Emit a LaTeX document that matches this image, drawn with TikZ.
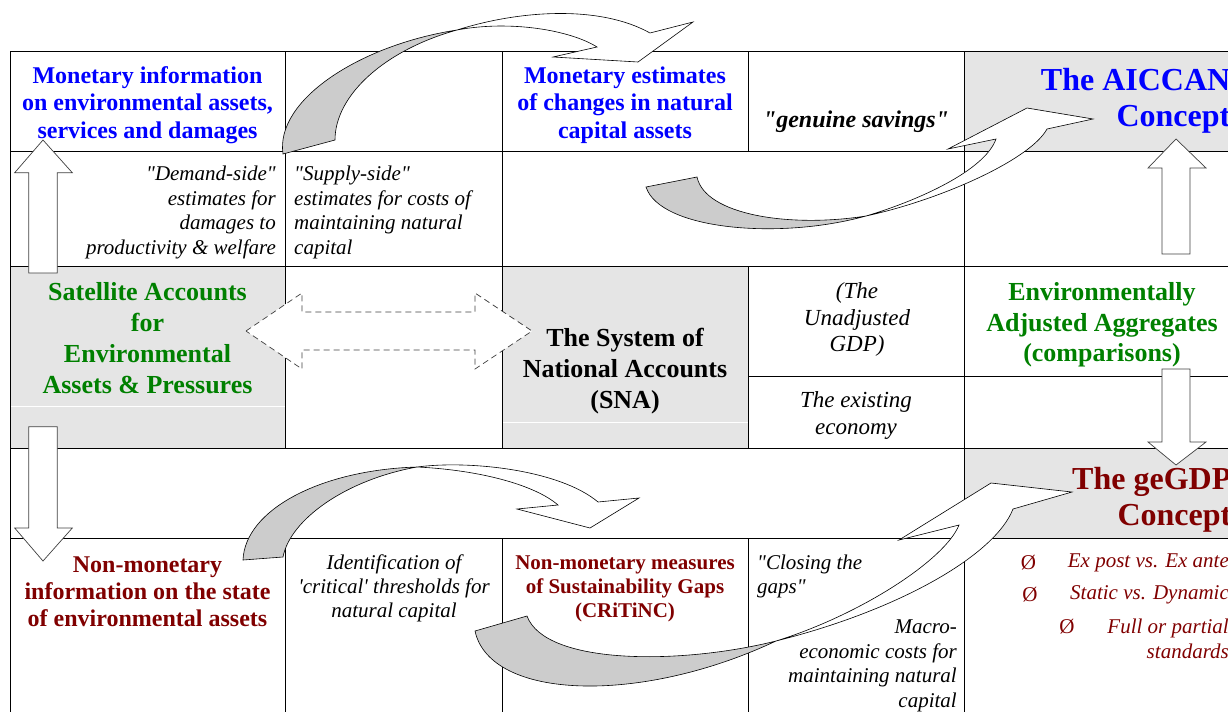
\documentclass[tikz,border=0pt]{standalone}
\usepackage{fontspec}
\setmainfont{Liberation Serif}[Ligatures=TeXOff]
\definecolor{cblue}{RGB}{0,0,255}
\definecolor{cgreen}{RGB}{0,128,0}
\definecolor{cred}{RGB}{128,0,0}
\definecolor{cellgray}{RGB}{229,229,229}
\definecolor{arrgray}{RGB}{204,204,204}
\tikzset{
  tline/.style={line width=1pt, black},
  cellfill/.style={fill=cellgray},
  blockarrow/.style={fill=white, draw=black!75, line width=0.7pt, line join=miter},
  curvgray/.style={fill=arrgray, draw=black, line width=0.6pt},
  curvwhite/.style={fill=white, draw=black, line width=0.6pt},
  dasharrow/.style={fill=white, draw=black!75, dash pattern=on 6pt off 4pt, line width=0.7pt},
  txt/.style={inner sep=0pt, align=center},
  hdA/.style={txt, font=\fontsize{24}{27.5}\selectfont\bfseries},
  hdB/.style={txt, font=\fontsize{26}{31}\selectfont\bfseries},
  hdC/.style={txt, font=\fontsize{32}{36}\selectfont\bfseries},
  hdD/.style={txt, font=\fontsize{21}{24}\selectfont\bfseries},
  note/.style={txt, font=\fontsize{21}{24.5}\selectfont\itshape},
  noteB/.style={txt, font=\fontsize{23}{26.5}\selectfont\itshape},
  bul/.style={inner sep=0pt, text=cred, font=\fontsize{21}{25}\selectfont},
}
\begin{document}
\begin{tikzpicture}[x=1pt,y=-1pt]
\useasboundingbox (0,0) rectangle (1228,712);
\clip (0,0) rectangle (1228,712);
% grey cells
\fill[cellfill] (964,51) rectangle (1228,151);
\fill[cellfill] (10,266) rectangle (285,448);
\fill[cellfill] (502,266) rectangle (748,448);
\fill[cellfill] (964,448) rectangle (1228,538);
\draw[white, line width=0.6pt] (10,406) -- (285,406);
\draw[white, line width=0.6pt] (502,422) -- (748,422);
% table lines
\draw[tline] (10,51) -- (1228,51);
\draw[tline] (10,151) -- (1228,151);
\draw[tline] (10,266) -- (1228,266);
\draw[tline] (748,376) -- (1228,376);
\draw[tline] (10,448) -- (1228,448);
\draw[tline] (10,538) -- (1228,538);
\draw[tline] (10,51) -- (10,712);
\draw[tline] (285,51) -- (285,448);
\draw[tline] (285,538) -- (285,712);
\draw[tline] (502,51) -- (502,448);
\draw[tline] (502,538) -- (502,712);
\draw[tline] (748,51) -- (748,151);
\draw[tline] (748,266) -- (748,448);
\draw[tline] (748,538) -- (748,712);
\draw[tline] (964,51) -- (964,712);
% texts
\node[hdA, text=cblue] (mon1) at (147.5,105) {Monetary information\\on environmental assets,\\services and damages};
\node[hdA, text=cblue] (mon2) at (625,105) {Monetary estimates\\of changes in natural\\capital assets};
\node[txt, font=\fontsize{24}{27.5}\selectfont\bfseries\itshape] (gen) at (856,122) {"genuine savings"};
\node[hdC, text=cblue, align=right, anchor=east] (aiccan) at (1230.5,101) {The AICCAN\\Concept};
\node[note, align=right, anchor=east] (demand) at (276,212.5) {"Demand-side"\\estimates for\\damages to\\productivity \& welfare};
\node[note, align=left, anchor=west] (supply) at (294,212.5) {"Supply-side"\\estimates for costs of\\maintaining natural\\capital};
\node[hdB, text=cgreen] (sat) at (147.5,338) {Satellite Accounts\\for\\Environmental\\Assets \& Pressures};
\node[hdB] (sna) at (625,371) {The System of\\National Accounts\\(SNA)};
\node[noteB] (unadj) at (857,319.5) {(The\\Unadjusted\\GDP)};
\node[noteB] (exist) at (856,415.5) {The existing\\economy};
\node[hdB, text=cgreen, font=\fontsize{26}{30.5}\selectfont\bfseries] (envadj) at (1102,325) {Environmentally\\Adjusted Aggregates\\(comparisons)};
\node[hdC, text=cred, align=right, anchor=east] (gegdp) at (1231.5,500) {The geGDP\\Concept};
\node[hdA, text=cred, font=\fontsize{24}{27}\selectfont\bfseries] (nonmon1) at (147.5,592) {Non-monetary\\information on the state\\of environmental assets};
\node[note, font=\fontsize{21}{24}\selectfont\itshape] (ident) at (394,588) {Identification of\\'critical' thresholds for\\natural capital};
\node[hdD, text=cred] (nonmon2) at (625,589) {Non-monetary measures\\of Sustainability Gaps\\(CRiTiNC)};
\node[note, font=\fontsize{21}{24}\selectfont\itshape, align=left, anchor=west] (closing) at (757,576) {"Closing the\\gaps"};
\node[note, align=right, anchor=east] (macro) at (957,666) {Macro-\\economic costs for\\maintaining natural\\capital};
\node[bul] (b1s) at (1028.5,563) {Ø};
\node[bul, font=\fontsize{21}{25}\selectfont\itshape, anchor=east] (b1) at (1229,563) {Ex post vs. Ex ante};
\node[bul] (b2s) at (1030,595) {Ø};
\node[bul, font=\fontsize{21}{25}\selectfont\itshape, anchor=east] (b2) at (1229,595) {Static vs. Dynamic};
\node[bul] (b3s) at (1067,627) {Ø};
\node[bul, font=\fontsize{21}{25}\selectfont\itshape, anchor=east, align=right] (b3) at (1229,639) {Full or partial\\standards};
% block arrows
\draw[blockarrow] (28.7,273) -- (28.7,172.7) -- (14.7,172.7) -- (43,140) -- (72.3,172.7) -- (57.3,172.7) -- (57.3,273) -- cycle;
\draw[blockarrow] (28.7,426.7) -- (28.7,528) -- (14.7,528) -- (43,561) -- (72.3,528) -- (57.3,528) -- (57.3,426.7) -- cycle;
\draw[blockarrow] (1162,254) -- (1162,168) -- (1148,168) -- (1176,139) -- (1206,168) -- (1190,168) -- (1190,254) -- cycle;
\draw[blockarrow] (1162,369) -- (1162,442) -- (1148,442) -- (1176,465) -- (1206,442) -- (1190,442) -- (1190,369) -- cycle;
% dashed double arrow
\draw[dasharrow] (246,331) -- (302,293) -- (302,312) -- (475,312) -- (475,293) -- (532,331) -- (475,369) -- (475,350) -- (302,350) -- (302,369) -- cycle;
% curved arrow A
\draw[curvgray] (283,154) .. controls (275,100) and (360,45) .. (457,30) .. controls (385,50) and (335,95) .. (335,140) -- cycle;
\draw[curvwhite] (457,30) .. controls (520,10) and (600,5) .. (650,33) -- (693,22) -- (638,62) -- (553,57) -- (597,47) .. controls (570,30) and (510,20) .. (457,30) -- cycle;
% curved arrow B
\draw[curvgray] (646,187) .. controls (660,230) and (780,240) .. (866,216) .. controls (790,228) and (705,215) .. (697,177) -- cycle;
\draw[curvwhite] (866,216) .. controls (940,200) and (1030,160) .. (1047,129) -- (1093,119) -- (1027,108) -- (948,149) -- (996,139) .. controls (985,170) and (920,200) .. (866,216) -- cycle;
% curved arrow C
\draw[curvgray] (243,560) .. controls (245,510) and (320,470) .. (417,467) .. controls (345,480) and (290,520) .. (283,557) -- cycle;
\draw[curvwhite] (417,467) .. controls (470,460) and (560,470) .. (598,502) -- (639,498) -- (590,528) -- (517,509) -- (558,505) .. controls (535,485) and (480,470) .. (417,467) -- cycle;
% curved arrow D
\draw[curvgray] (475,631) .. controls (490,700) and (640,705) .. (776,641) .. controls (680,665) and (545,665) .. (527,616) -- cycle;
\draw[curvwhite] (776,641) .. controls (860,615) and (945,560) .. (959,525) -- (899,540) -- (991,483) -- (1072,492) -- (1013,509) .. controls (995,555) and (900,610) .. (776,641) -- cycle;
\end{tikzpicture}
\end{document}
